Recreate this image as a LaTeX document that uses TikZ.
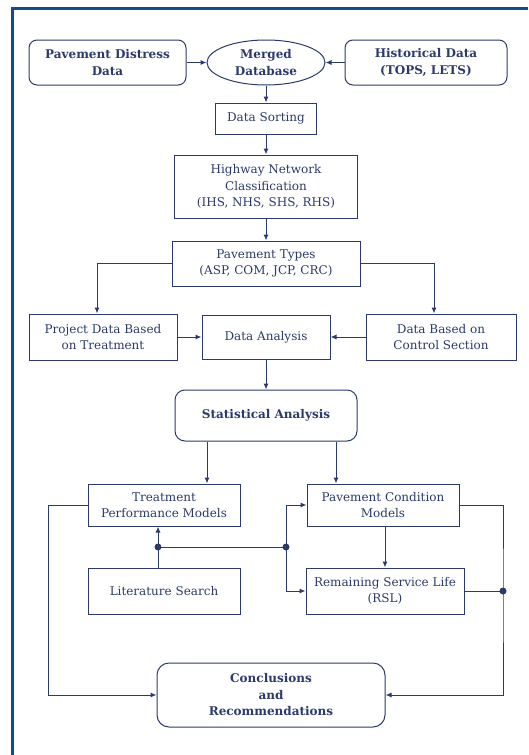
\documentclass[tikz,border=0pt]{standalone}
\usepackage{fontspec}
\setmainfont{DejaVu Serif}
\usetikzlibrary{shapes.geometric, arrows.meta, positioning}
\usepackage{xcolor}
\definecolor{navy}{HTML}{2B3A6B}
\definecolor{frameblue}{HTML}{124A8A}

\begin{document}
\begin{tikzpicture}[x=1pt, y=-1pt, >={Latex[length=6pt, width=5pt]},
    every node/.style = {text=navy, align=center, inner sep=0pt, font=\fontsize{12}{16.5}\selectfont},
    box/.style = {draw=navy, line width=1pt},
    rbox/.style = {box, rounded corners=8pt},
    bold/.style = {font=\fontsize{12}{16.5}\selectfont\bfseries},
    dot/.style = {circle, fill=navy, minimum size=7pt}]
      \useasboundingbox (0,0) rectangle (528,755);
      \draw[frameblue, line width=3pt] (12,755) -- (12,8) -- (528,8);

      \node[rbox, bold, minimum width=157pt, minimum height=45pt] (1) at (107.5,62.5) {Pavement Distress\\Data};
      \node[box, bold, ellipse, minimum width=118pt, minimum height=45pt] (2) at (266,62.5) {Merged\\Database};
      \node[rbox, bold, minimum width=162pt, minimum height=45pt] (3) at (426,62.5) {Historical Data\\(TOPS, LETS)};
      \node[box, minimum width=101pt, minimum height=31pt] (4) at (266,118.5) {Data Sorting};
      \node[box, minimum width=183pt, minimum height=63pt] (5) at (266,186.5) {Highway Network\\Classification\\(IHS, NHS, SHS, RHS)};
      \node[box, minimum width=188pt, minimum height=45pt] (6) at (266,263.5) {Pavement Types\\(ASP, COM, JCP, CRC)};
      \node[box, minimum width=148pt, minimum height=46pt] (7) at (103,337) {Project Data Based\\on Treatment};
      \node[box, minimum width=128pt, minimum height=44pt] (8) at (266,337) {Data Analysis};
      \node[box, minimum width=150pt, minimum height=46pt] (9) at (441,337) {Data Based on\\Control Section};
      \node[rbox, bold, rounded corners=10pt, minimum width=182pt, minimum height=51pt] (10) at (266,415.5) {Statistical Analysis};
      \node[box, minimum width=152pt, minimum height=42pt] (11) at (164,505) {Treatment\\Performance Models};
      \node[box, minimum width=152pt, minimum height=42pt] (12) at (383,505) {Pavement Condition\\Models};
      \node[box, minimum width=152pt, minimum height=46pt] (13) at (164,591) {Literature Search};
      \node[box, minimum width=158pt, minimum height=46pt] (14) at (385,591) {Remaining Service Life\\(RSL)};
      \node[rbox, bold, rounded corners=12pt, minimum width=228pt, minimum height=64pt] (15) at (271,695) {Conclusions\\and\\Recommendations};

      \coordinate (j1) at (158,547);
      \coordinate (j2) at (286,547);
      \coordinate (j3) at (503,591);

      \path[->, navy, line width=1pt]
      (1) edge (2)
      (3) edge (2)
      (2) edge (4)
      (4) edge (5)
      (5) edge (6)
      (7) edge (8)
      (9) edge (8)
      (8) edge (10)
      (12.south -| 14.north) edge (14.north);

      \draw[->, navy, line width=1pt] (6.west) -| ([xshift=-6pt]7.north);
      \draw[->, navy, line width=1pt] (6.east) -| ([xshift=-7pt]9.north);
      \draw[->, navy, line width=1pt] ([xshift=-59pt]10.south) -- ([xshift=-59pt]10.south |- 11.north);
      \draw[->, navy, line width=1pt] ([xshift=70pt]10.south) -- ([xshift=70pt]10.south |- 12.north);
      \draw[->, navy, line width=1pt] ([xshift=-6pt]13.north) -- ([xshift=-6pt]11.south);
      \draw[navy, line width=1pt] (j1) -- (j2);
      \draw[->, navy, line width=1pt] (j2) |- (12.west);
      \draw[->, navy, line width=1pt] (j2) |- (14.west);
      \draw[->, navy, line width=1pt] (11.west) -- ++(-39,0) |- (15.west);
      \draw[->, navy, line width=1pt] (12.east) -| (j3) |- (15.east);
      \draw[navy, line width=1pt] (14.east) -- (j3);

      \node[dot] (d1) at (j1) {};
      \node[dot] (d2) at (j2) {};
      \node[dot] (d3) at (j3) {};
    \end{tikzpicture}
\end{document}
